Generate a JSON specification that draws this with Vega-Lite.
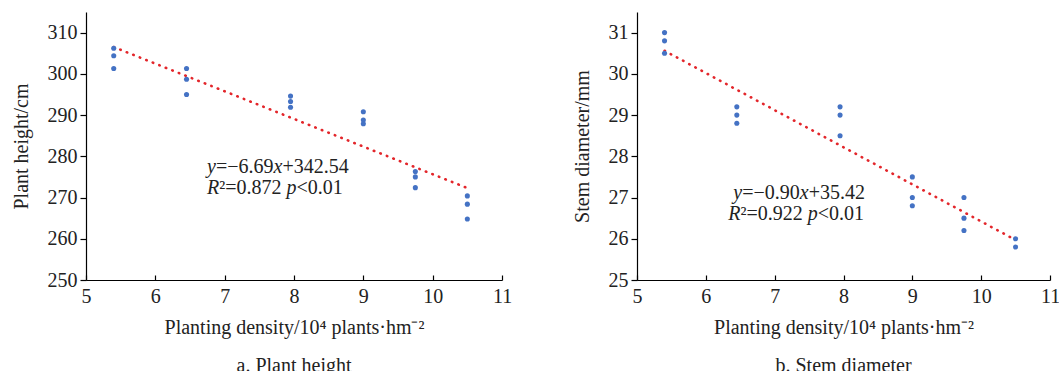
{
  "$schema": "https://vega.github.io/schema/vega-lite/v6.json",
  "padding": {"left": 11, "top": 12, "right": 5, "bottom": 5},
  "background": "white",
  "config": {
    "font": "Liberation Serif",
    "view": {"stroke": null},
    "axis": {
      "labelFont": "Liberation Serif", "titleFont": "Liberation Serif",
      "labelFontSize": 20, "titleFontSize": 20, "titleFontWeight": "normal",
      "labelColor": "#222", "titleColor": "#222",
      "domainColor": "#000", "tickColor": "#000", "domainWidth": 1.2, "tickWidth": 1.2,
      "grid": false
    },
    "axisX": {"tickSize": -5, "labelPadding": 11, "titlePadding": 11, "labelFlush": false},
    "axisY": {"tickSize": 6, "labelPadding": 3, "titlePadding": 16},
    "title": {"font": "Liberation Serif", "fontSize": 20, "fontWeight": "normal", "color": "#222", "orient": "bottom", "offset": 19}
  },
  "spacing": 60,
  "datasets": {
    "height": [
      {"density": 5.4, "value": 306.2}, {"density": 5.4, "value": 304.4}, {"density": 5.4, "value": 301.3},
      {"density": 6.45, "value": 301.3}, {"density": 6.45, "value": 298.7}, {"density": 6.45, "value": 295.0},
      {"density": 7.95, "value": 294.6}, {"density": 7.95, "value": 293.3}, {"density": 7.95, "value": 291.9},
      {"density": 9.0, "value": 290.8}, {"density": 9.0, "value": 288.8}, {"density": 9.0, "value": 287.9},
      {"density": 9.75, "value": 276.3}, {"density": 9.75, "value": 275.0}, {"density": 9.75, "value": 272.4},
      {"density": 10.5, "value": 270.4}, {"density": 10.5, "value": 268.4}, {"density": 10.5, "value": 264.8}
    ],
    "height_fit": [{"density": 5.4, "value": 306.5}, {"density": 10.5, "value": 272.3}],
    "diameter": [
      {"density": 5.4, "value": 31.0}, {"density": 5.4, "value": 30.8}, {"density": 5.4, "value": 30.5},
      {"density": 6.45, "value": 29.2}, {"density": 6.45, "value": 29.0}, {"density": 6.45, "value": 28.8},
      {"density": 7.95, "value": 29.2}, {"density": 7.95, "value": 29.0}, {"density": 7.95, "value": 28.5},
      {"density": 9.0, "value": 27.5}, {"density": 9.0, "value": 27.0}, {"density": 9.0, "value": 26.8},
      {"density": 9.75, "value": 27.0}, {"density": 9.75, "value": 26.5}, {"density": 9.75, "value": 26.2},
      {"density": 10.5, "value": 26.0}, {"density": 10.5, "value": 25.8}
    ],
    "diameter_fit": [{"density": 5.4, "value": 30.56}, {"density": 10.5, "value": 25.97}],
    "ann_a1": [{"density": 6.745, "value": 277.4}],
    "ann_a2": [{"density": 6.745, "value": 272.4}],
    "ann_b1": [{"density": 6.398, "value": 27.12}],
    "ann_b2": [{"density": 6.325, "value": 26.6}]
  },
  "hconcat": [
    {
      "width": 416, "height": 268,
      "title": {"text": "a. Plant height"},
      "encoding": {
        "x": {"field": "density", "type": "quantitative", "scale": {"domain": [5, 11], "nice": false, "zero": false},
              "axis": {"values": [5, 6, 7, 8, 9, 10, 11], "title": "Planting density/10⁴ plants·hm⁻²"}},
        "y": {"field": "value", "type": "quantitative", "scale": {"domain": [250, 315], "nice": false, "zero": false},
              "axis": {"values": [250, 260, 270, 280, 290, 300, 310], "title": "Plant height/cm"}}
      },
      "layer": [
        {"data": {"name": "height_fit"}, "mark": {"type": "line", "color": "#E3262B", "strokeWidth": 2.6, "strokeDash": [0.5, 6.5], "strokeCap": "round"}},
        {"data": {"name": "height"}, "mark": {"type": "point", "filled": true, "color": "#4472C4", "size": 26, "opacity": 1}},
        {"data": {"name": "ann_a1"}, "mark": {"type": "text", "text": "y", "fontStyle": "italic", "fontSize": 20, "align": "left", "baseline": "middle", "color": "#222", "dx": 0}},
        {"data": {"name": "ann_a1"}, "mark": {"type": "text", "text": "=−6.69", "fontSize": 20, "align": "left", "baseline": "middle", "color": "#222", "dx": 8.9}},
        {"data": {"name": "ann_a1"}, "mark": {"type": "text", "text": "x", "fontStyle": "italic", "fontSize": 20, "align": "left", "baseline": "middle", "color": "#222", "dx": 66.5}},
        {"data": {"name": "ann_a1"}, "mark": {"type": "text", "text": "+342.54", "fontSize": 20, "align": "left", "baseline": "middle", "color": "#222", "dx": 75.4}},
        {"data": {"name": "ann_a2"}, "mark": {"type": "text", "text": "R", "fontStyle": "italic", "fontSize": 20, "align": "left", "baseline": "middle", "color": "#222", "dx": 0}},
        {"data": {"name": "ann_a2"}, "mark": {"type": "text", "text": "²=0.872", "fontSize": 20, "align": "left", "baseline": "middle", "color": "#222", "dx": 12.2}},
        {"data": {"name": "ann_a2"}, "mark": {"type": "text", "text": "p", "fontStyle": "italic", "fontSize": 20, "align": "left", "baseline": "middle", "color": "#222", "dx": 79.5}},
        {"data": {"name": "ann_a2"}, "mark": {"type": "text", "text": "<0.01", "fontSize": 20, "align": "left", "baseline": "middle", "color": "#222", "dx": 89.5}}
      ]
    },
    {
      "width": 413, "height": 268,
      "title": {"text": "b. Stem diameter"},
      "encoding": {
        "x": {"field": "density", "type": "quantitative", "scale": {"domain": [5, 11], "nice": false, "zero": false},
              "axis": {"values": [5, 6, 7, 8, 9, 10, 11], "title": "Planting density/10⁴ plants·hm⁻²"}},
        "y": {"field": "value", "type": "quantitative", "scale": {"domain": [25, 31.5], "nice": false, "zero": false},
              "axis": {"values": [25, 26, 27, 28, 29, 30, 31], "title": "Stem diameter/mm"}}
      },
      "layer": [
        {"data": {"name": "diameter_fit"}, "mark": {"type": "line", "color": "#E3262B", "strokeWidth": 2.6, "strokeDash": [0.5, 6.5], "strokeCap": "round"}},
        {"data": {"name": "diameter"}, "mark": {"type": "point", "filled": true, "color": "#4472C4", "size": 26, "opacity": 1}},
        {"data": {"name": "ann_b1"}, "mark": {"type": "text", "text": "y", "fontStyle": "italic", "fontSize": 20, "align": "left", "baseline": "middle", "color": "#222", "dx": 0}},
        {"data": {"name": "ann_b1"}, "mark": {"type": "text", "text": "=−0.90", "fontSize": 20, "align": "left", "baseline": "middle", "color": "#222", "dx": 8.9}},
        {"data": {"name": "ann_b1"}, "mark": {"type": "text", "text": "x", "fontStyle": "italic", "fontSize": 20, "align": "left", "baseline": "middle", "color": "#222", "dx": 66.5}},
        {"data": {"name": "ann_b1"}, "mark": {"type": "text", "text": "+35.42", "fontSize": 20, "align": "left", "baseline": "middle", "color": "#222", "dx": 75.4}},
        {"data": {"name": "ann_b2"}, "mark": {"type": "text", "text": "R", "fontStyle": "italic", "fontSize": 20, "align": "left", "baseline": "middle", "color": "#222", "dx": 0}},
        {"data": {"name": "ann_b2"}, "mark": {"type": "text", "text": "²=0.922", "fontSize": 20, "align": "left", "baseline": "middle", "color": "#222", "dx": 12.2}},
        {"data": {"name": "ann_b2"}, "mark": {"type": "text", "text": "p", "fontStyle": "italic", "fontSize": 20, "align": "left", "baseline": "middle", "color": "#222", "dx": 79.5}},
        {"data": {"name": "ann_b2"}, "mark": {"type": "text", "text": "<0.01", "fontSize": 20, "align": "left", "baseline": "middle", "color": "#222", "dx": 89.5}}
      ]
    }
  ]
}
